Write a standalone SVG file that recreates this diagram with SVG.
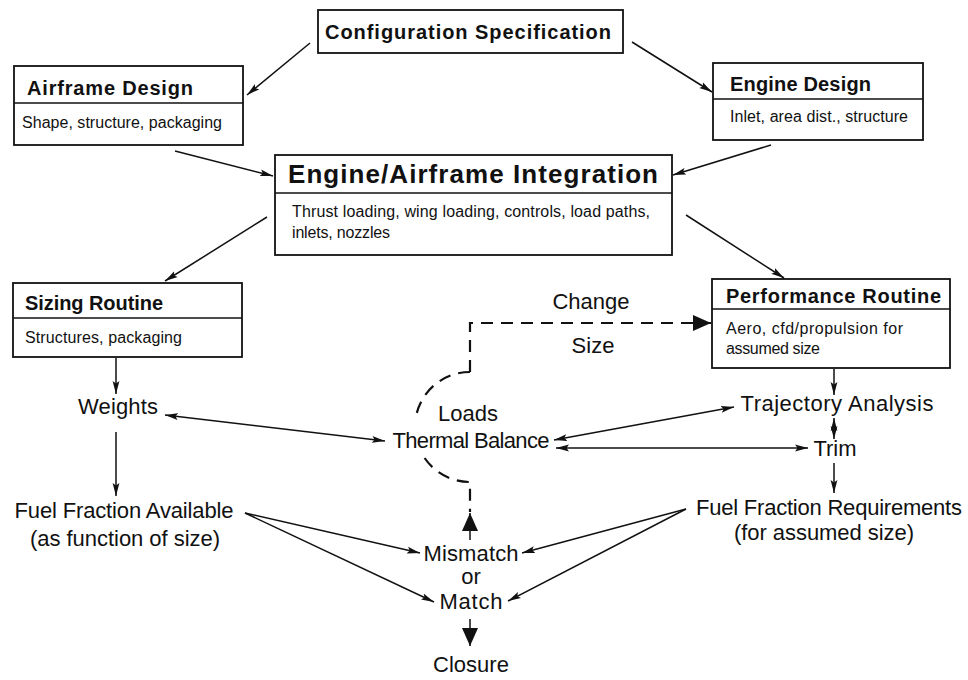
<svg xmlns="http://www.w3.org/2000/svg" width="968" height="680" viewBox="0 0 968 680">
<style>
.box{fill:#fff;stroke:#111;stroke-width:1.8}
.div{stroke:#111;stroke-width:1.4}
.t{font-family:"Liberation Sans",Arial,Helvetica,sans-serif;font-weight:bold;font-size:20px;fill:#111}
.ti{font-family:"Liberation Sans",Arial,Helvetica,sans-serif;font-weight:bold;font-size:26px;fill:#111}
.s{font-family:"Liberation Sans",Arial,Helvetica,sans-serif;font-size:16px;fill:#111}
.l{font-family:"Liberation Sans",Arial,Helvetica,sans-serif;font-size:22px;fill:#111;text-anchor:middle}
.c{fill:none;stroke:#111;stroke-width:1.5}
.d{fill:none;stroke:#111;stroke-width:2.2;stroke-dasharray:12 8}
</style>
<defs>
<marker id="ah" markerUnits="userSpaceOnUse" markerWidth="13" markerHeight="8" refX="13" refY="4" orient="auto-start-reverse">
<path d="M0,0.6 L13,4 L0,7.4 L2.5,4 z" fill="#111"/>
</marker>
<marker id="big" markerUnits="userSpaceOnUse" markerWidth="18" markerHeight="16" refX="18" refY="8" orient="auto-start-reverse">
<path d="M0,0 L18,8 L0,16 z" fill="#111"/>
</marker>
</defs>
<rect width="968" height="680" fill="#fff"/>

<g id="connectors">
<line class="c" x1="310" y1="43" x2="247" y2="95" marker-end="url(#ah)"/>
<line class="c" x1="632" y1="42" x2="712" y2="92" marker-end="url(#ah)"/>
<line class="c" x1="175" y1="151" x2="273" y2="176" marker-end="url(#ah)"/>
<line class="c" x1="771" y1="145" x2="673" y2="175" marker-end="url(#ah)"/>
<line class="c" x1="267" y1="217" x2="165" y2="281" marker-end="url(#ah)"/>
<line class="c" x1="686" y1="215" x2="784" y2="278" marker-end="url(#ah)"/>
<line class="c" x1="116" y1="358" x2="116" y2="394" marker-end="url(#ah)"/>
<line class="c" x1="116" y1="432" x2="116" y2="496" marker-end="url(#ah)"/>
<line class="c" x1="165" y1="415" x2="385" y2="441" marker-start="url(#ah)" marker-end="url(#ah)"/>
<line class="c" x1="834" y1="369" x2="834" y2="395" marker-end="url(#ah)"/>
<line class="c" x1="734" y1="407" x2="554" y2="440" marker-start="url(#ah)" marker-end="url(#ah)"/>
<line class="c" x1="834" y1="418" x2="834" y2="439" marker-start="url(#ah)" marker-end="url(#ah)"/>
<line class="c" x1="808" y1="448" x2="556" y2="448" marker-start="url(#ah)" marker-end="url(#ah)"/>
<line class="c" x1="834" y1="463" x2="834" y2="493" marker-end="url(#ah)"/>
<line class="c" x1="245" y1="513" x2="420" y2="553" marker-end="url(#ah)"/>
<line class="c" x1="245" y1="513" x2="434" y2="602" marker-end="url(#ah)"/>
<line class="c" x1="686" y1="509" x2="522" y2="553" marker-end="url(#ah)"/>
<line class="c" x1="686" y1="509" x2="508" y2="601" marker-end="url(#ah)"/>
<path class="d" d="M470,372 L470,323 L711,323" marker-end="url(#big)"/>
<path class="d" d="M470,372 A55,55 0 0 0 416.3,415"/>
<path class="d" d="M424.6,458 A55,55 0 0 0 470,482 L470,512"/>
<line class="c" stroke-width="2" x1="470" y1="540" x2="470" y2="513" marker-end="url(#big)"/>
<line class="c" stroke-width="2" x1="470" y1="619" x2="470" y2="646" marker-end="url(#big)"/>
</g>

<g id="config-spec">
<rect class="box" x="318" y="10" width="305" height="43"/>
<text class="t" x="325" y="39" textLength="286">Configuration Specification</text>
</g>

<g id="airframe-design">
<rect class="box" x="14" y="66" width="229" height="79"/>
<line class="div" x1="14" y1="103" x2="243" y2="103"/>
<text class="t" x="27" y="95" textLength="166">Airframe Design</text>
<text class="s" x="22" y="128" textLength="200">Shape, structure, packaging</text>
</g>

<g id="engine-design">
<rect class="box" x="713" y="63" width="210" height="77"/>
<line class="div" x1="713" y1="99" x2="923" y2="99"/>
<text class="t" x="730" y="91" textLength="141">Engine Design</text>
<text class="s" x="730" y="122" textLength="178">Inlet, area dist., structure</text>
</g>

<g id="integration">
<rect class="box" x="275" y="155" width="397" height="100"/>
<line class="div" x1="275" y1="193" x2="672" y2="193"/>
<text class="ti" x="288" y="183" textLength="370">Engine/Airframe Integration</text>
<text class="s" x="292" y="217" textLength="358">Thrust loading, wing loading, controls, load paths,</text>
<text class="s" x="292" y="238" textLength="98">inlets, nozzles</text>
</g>

<g id="sizing-routine">
<rect class="box" x="13" y="283" width="229" height="74"/>
<line class="div" x1="13" y1="318" x2="242" y2="318"/>
<text class="t" x="25" y="310" textLength="138">Sizing Routine</text>
<text class="s" x="25" y="343" textLength="157">Structures, packaging</text>
</g>

<g id="performance-routine">
<rect class="box" x="712" y="279" width="238" height="89"/>
<line class="div" x1="712" y1="309" x2="950" y2="309"/>
<text class="t" x="726" y="303" textLength="215">Performance Routine</text>
<text class="s" x="726" y="334" textLength="177">Aero, cfd/propulsion for</text>
<text class="s" x="726" y="354" textLength="94">assumed size</text>
</g>

<g id="change-size">
<text class="l" x="591" y="309">Change</text>
<text class="l" x="593" y="353">Size</text>
</g>

<g id="weights"><text class="l" x="118" y="414" textLength="80">Weights</text></g>
<g id="fuel-available">
<text class="l" x="124" y="518" textLength="219">Fuel Fraction Available</text>
<text class="l" x="125" y="546" textLength="190">(as function of size)</text>
</g>
<g id="loads-thermal">
<text class="l" x="468" y="421">Loads</text>
<text class="l" x="471" y="448" textLength="157">Thermal Balance</text>
</g>
<g id="trajectory"><text class="l" x="837" y="411" textLength="193">Trajectory Analysis</text></g>
<g id="trim"><text class="l" x="835" y="456" textLength="43">Trim</text></g>
<g id="fuel-requirements">
<text class="l" x="829" y="515" textLength="266">Fuel Fraction Requirements</text>
<text class="l" x="824" y="540" textLength="180">(for assumed size)</text>
</g>
<g id="mismatch-match">
<text class="l" x="471" y="561" textLength="95">Mismatch</text>
<text class="l" x="471" y="584">or</text>
<text class="l" x="471" y="609" textLength="63">Match</text>
</g>
<g id="closure"><text class="l" x="471" y="672">Closure</text></g>
</svg>
